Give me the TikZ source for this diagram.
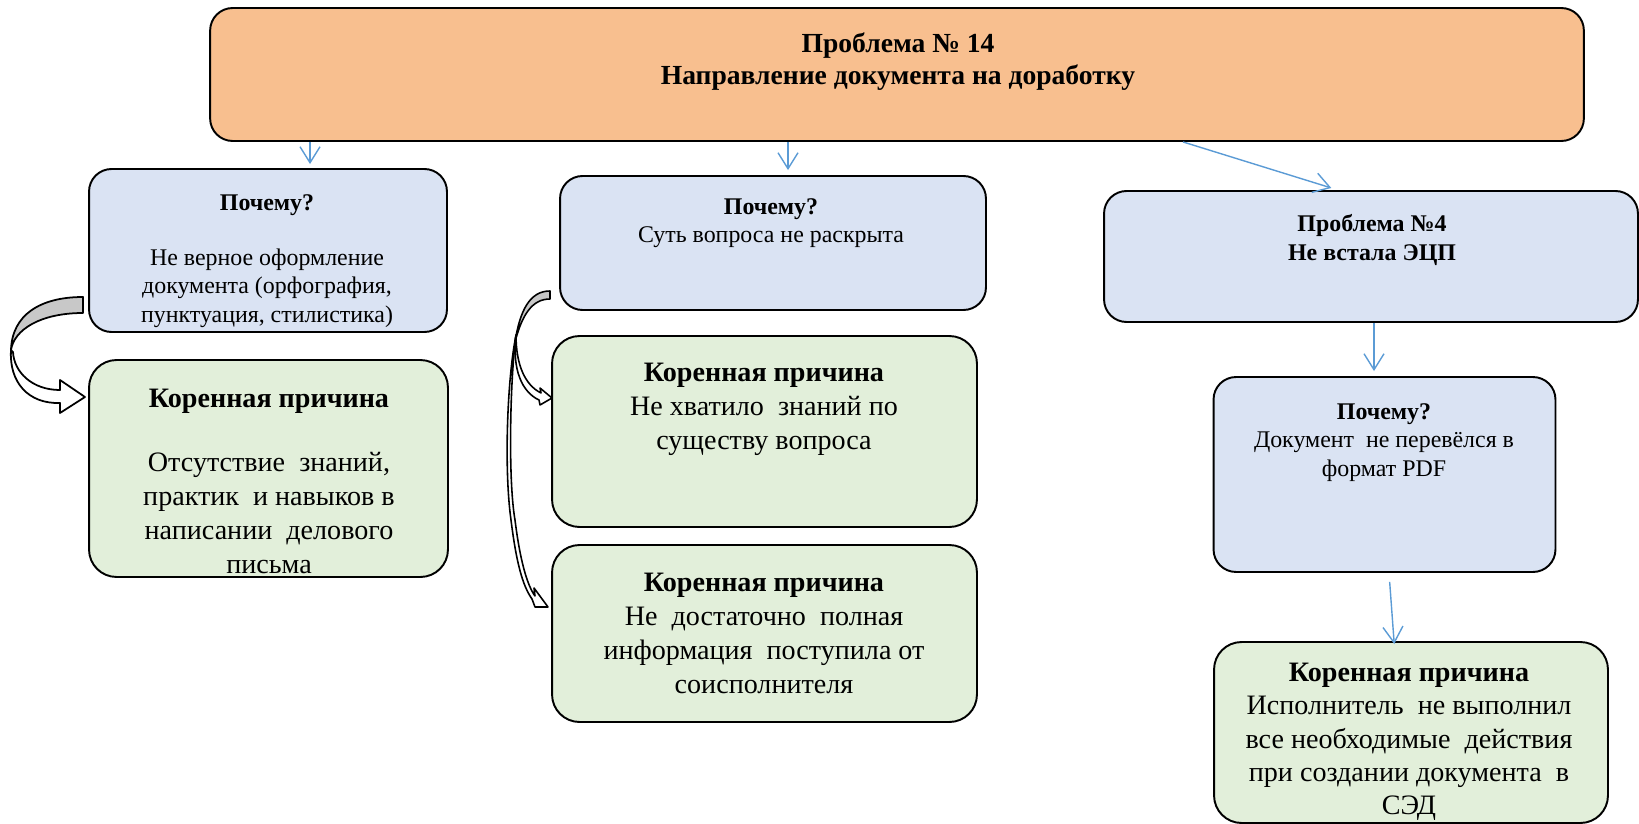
\documentclass[tikz,border=0pt]{standalone}
\usepackage{fontspec}
\setmainfont{Liberation Serif}
\usetikzlibrary{arrows.meta}
\definecolor{orangeF}{RGB}{248,191,143}
\definecolor{blueF}{RGB}{218,227,243}
\definecolor{greenF}{RGB}{226,239,218}
\definecolor{arrowblue}{RGB}{91,155,213}
\definecolor{bandgray}{RGB}{200,200,200}
\newcommand\FontTop{\fontsize{15.7}{18.2}\selectfont\bfseries}
\newcommand\FontWhy{\fontsize{13.6}{16.2}\selectfont}
\newcommand\FontRoot{\fontsize{16}{19.4}\selectfont}
\newcommand\FontRootR{\fontsize{16}{18.9}\selectfont}
\begin{document}
\begin{tikzpicture}[x=0.02cm,y=-0.02cm,
  box/.style={draw=black, line width=1.1pt, rounded corners=0.45cm, inner sep=0pt},
  topbox/.style={box, fill=orangeF},
  whybox/.style={box, fill=blueF},
  rootbox/.style={box, fill=greenF, rounded corners=0.55cm},
  txt/.style={inner sep=0pt, align=center, anchor=north},
  barrow/.style={draw=arrowblue, line width=0.8pt, -{Straight Barb[length=0.32cm, width=0.4cm]}},
  band/.style={draw=black, line width=1pt, line join=round, fill=white},
  bandback/.style={draw=black, line width=1pt, line join=round, fill=bandgray}]
\useasboundingbox (0,0) rectangle (1639,824);

% boxes
\node[topbox, minimum width=27.48cm, minimum height=2.66cm] (top) at (897,74.5) {};
\node[whybox, minimum width=7.16cm, minimum height=3.26cm] (lwhy) at (268,250.5) {};
\node[rootbox, minimum width=7.18cm, minimum height=4.34cm] (lroot) at (268.5,468.5) {};
\node[whybox, minimum width=8.52cm, minimum height=2.68cm] (mwhy) at (773,243) {};
\node[rootbox, minimum width=8.5cm, minimum height=3.82cm] (mroot1) at (764.5,431.5) {};
\node[rootbox, minimum width=8.5cm, minimum height=3.54cm] (mroot2) at (764.5,633.5) {};
\node[whybox, minimum width=10.68cm, minimum height=2.62cm] (rprob) at (1371,256.5) {};
\node[whybox, minimum width=6.84cm, minimum height=3.9cm] (rwhy) at (1384.5,474.5) {};
\node[rootbox, minimum width=7.88cm, minimum height=3.62cm] (rroot) at (1411,732.5) {};

% texts
\node[txt, font=\FontTop] (topT) at (898,32.5) {Проблема № 14\\Направление документа на доработку};
\node[txt, font=\FontWhy] (lwhyT) at (267,194.3) {\textbf{Почему?}\\[15pt]Не верное оформление\\документа (орфография,\\пунктуация, стилистика)};
\node[txt, font=\FontRoot] (lrootT) at (269,388.4) {\textbf{Коренная причина}\\[17pt]Отсутствие\ \ знаний,\\практик\ \ и навыков в\\написании\ \ делового\\письма};
\node[txt, font=\FontWhy] (mwhyT) at (771,198.3) {\textbf{Почему?}\\Суть вопроса не раскрыта};
\node[txt, font=\FontRoot] (mroot1T) at (764,362.4) {\textbf{Коренная причина}\\Не хватило\ \ знаний по\\существу вопроса};
\node[txt, font=\FontRoot] (mroot2T) at (764,572.4) {\textbf{Коренная причина}\\Не\ \ достаточно\ \ полная\\информация\ \ поступила от\\соисполнителя};
\node[txt, font=\FontWhy\bfseries] (rprobT) at (1372,214.3) {Проблема №4\\Не встала ЭЦП};
\node[txt, font=\FontWhy] (rwhyT) at (1384,403.3) {\textbf{Почему?}\\Документ\ \ не перевёлся в\\формат PDF};
\node[txt, font=\FontRootR] (rrootT) at (1409,663) {\textbf{Коренная причина}\\Исполнитель\ \ не выполнил\\все необходимые\ \ действия\\при создании документа\ \ в\\СЭД};

% blue connectors
\draw[barrow, shorten >=0.08cm] (top.south -| 310,0) -- (lwhy.north -| 310,0);
\draw[barrow, shorten >=0.1cm] (top.south -| 788,0) -- (mwhy.north -| 788,0);
\draw[barrow, shorten >=0.14cm] (top.south -| 1183,0) -- (rprob.north -| 1338,0);
\draw[barrow, shorten >=0.1cm] (rprob.south -| 1374,0) -- (rwhy.north -| 1374,0);
\draw[barrow, shorten <=0.18cm, shorten >=-0.06cm] (rwhy.south -| 1389,0) -- (rroot.north -| 1394,0);

% left curved block arrow (lwhy -> lroot)
\path[band] (13,352) .. controls (14,372) and (32,390) .. (60,390) -- (60,380) -- (85,397) -- (60,413) -- (60,403)
  .. controls (28,404) and (9,382) .. (11,350) -- cycle;
\path[bandback] (83,297) .. controls (40,297) and (12,315) .. (11,350)
  .. controls (14,330) and (40,313) .. (83,313) -- cycle;

% middle curved block arrows (mwhy -> mroot1, mwhy -> mroot2)
\path[band, line width=0.9pt] (516,335) .. controls (510,380) and (508,480) .. (515,520)
  .. controls (520,560) and (527,585) .. (535,596) -- (534,588) -- (548,607) -- (535,607) -- (532,599)
  .. controls (522,585) and (516,560) .. (511,520) .. controls (504,470) and (507,380) .. (516,335) -- cycle;
\path[band, line width=0.9pt] (516,335) .. controls (516,365) and (525,385) .. (541,393) -- (540,388) -- (552,398)
  -- (540,405) -- (539,400) .. controls (522,392) and (512,370) .. (516,335) -- cycle;
\path[bandback, line width=0.9pt] (550,291) .. controls (530,291) and (520,310) .. (515,342)
  .. controls (522,315) and (532,299) .. (550,299) -- cycle;
\end{tikzpicture}
\end{document}
